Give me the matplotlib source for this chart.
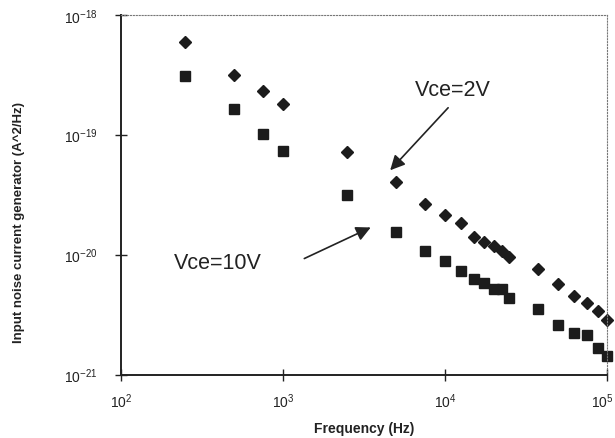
import numpy as np
import matplotlib.pyplot as plt
import matplotlib.transforms as mtransforms

plt.rcParams['font.family'] = ['Liberation Sans', 'DejaVu Sans']
plt.rcParams['axes.unicode_minus'] = False

# frequencies (Hz)
freq = [250, 500, 750, 1000, 2500, 5000, 7500, 10000, 12500, 15000, 17500,
        20000, 22500, 25000, 37500, 50000, 62500, 75000, 87500, 100000]

# input noise current generator (A^2/Hz)
vce2 = [5.88e-19, 3.14e-19, 2.32e-19, 1.80e-19, 7.1e-20, 3.99e-20, 2.63e-20,
        2.14e-20, 1.82e-20, 1.41e-20, 1.27e-20, 1.17e-20, 1.07e-20, 9.55e-21,
        7.64e-21, 5.65e-21, 4.51e-21, 3.92e-21, 3.38e-21, 2.84e-21]
vce10 = [3.10e-19, 1.63e-19, 1.01e-19, 7.24e-20, 3.14e-20, 1.55e-20, 1.07e-20,
         8.84e-21, 7.29e-21, 6.3e-21, 5.84e-21, 5.2e-21, 5.13e-21, 4.37e-21,
         3.54e-21, 2.58e-21, 2.23e-21, 2.12e-21, 1.67e-21, 1.43e-21]

fig = plt.figure(figsize=(6.15, 4.39), dpi=100)
ax = fig.add_axes([121/615, 1 - 375.5/439, 486/615, 359.8/439])

ax.plot(freq, vce2, ls='none', marker='D', ms=6.5, color='#1c1c1c', clip_on=False)
ax.plot(freq, vce10, ls='none', marker='s', ms=7, color='#1c1c1c', clip_on=False)

ax.set_xscale('log')
ax.set_yscale('log')
ax.set_xlim(1e2, 1e5)
ax.set_ylim(1e-21, 1e-18)
ax.set_xticks([1e2, 1e3, 1e4, 1e5])
ax.set_yticks([1e-21, 1e-20, 1e-19, 1e-18])
ax.minorticks_off()
ax.tick_params(direction='inout', length=8, width=1, labelsize=10, colors='#222222')
ax.tick_params(axis='x', pad=8)
ax.tick_params(axis='y', pad=13)

# last x label sits slightly left of its tick, as in the original
fig.canvas.draw()
lbl = ax.get_xticklabels()[-1]
lbl.set_transform(lbl.get_transform() +
                  mtransforms.ScaledTranslation(-5/100, 0, fig.dpi_scale_trans))

for s in ['left', 'bottom']:
    ax.spines[s].set_linewidth(1.4)
    ax.spines[s].set_color('#222222')
for s in ['top', 'right']:
    ax.spines[s].set_linewidth(0.8)
    ax.spines[s].set_linestyle(':')
    ax.spines[s].set_color('#777777')

ax.set_xlabel('Frequency (Hz)', fontsize=10, fontweight='bold', color='#222222')
ax.set_ylabel('Input noise current generator (A^2/Hz)', fontsize=9.5,
              fontweight='bold', color='#222222')
ax.xaxis.set_label_coords(0.5, -0.129)
ax.yaxis.set_label_coords(-0.198, 0.424)

arrow = dict(arrowstyle='-|>', color='#222222', lw=1.2, mutation_scale=22)
ax.annotate('', xy=(0.550, 0.562), xytext=(0.677, 0.747),
            xycoords='axes fraction', textcoords='axes fraction', arrowprops=arrow)
ax.annotate('', xy=(0.519, 0.412), xytext=(0.372, 0.319),
            xycoords='axes fraction', textcoords='axes fraction', arrowprops=arrow)
ax.text(0.683, 0.791, 'Vce=2V', transform=ax.transAxes, fontsize=15.5,
        ha='center', va='center', color='#222222')
ax.text(0.199, 0.310, 'Vce=10V', transform=ax.transAxes, fontsize=15.5,
        ha='center', va='center', color='#222222')

plt.savefig('out.png', dpi=100)
